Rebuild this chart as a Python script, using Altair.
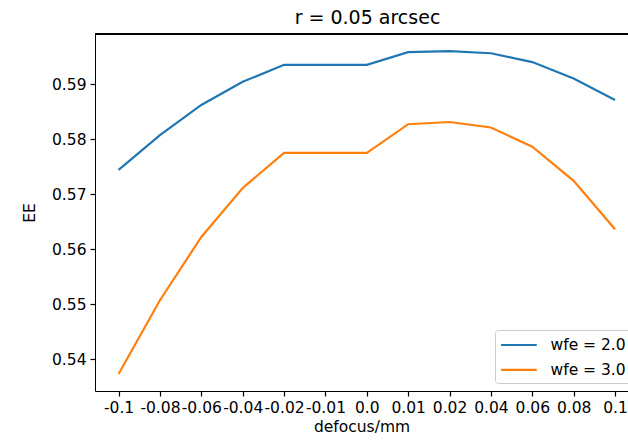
import json
import altair as alt
import pandas as pd

# ---- data ----
defocus_labels = ["-0.1", "-0.08", "-0.06", "-0.04", "-0.02", "-0.01", "0.0",
                  "0.01", "0.02", "0.04", "0.06", "0.08", "0.1"]
ee_wfe2 = [0.5744, 0.5807, 0.5862, 0.5904, 0.5935, 0.5935, 0.5935,
           0.5958, 0.5960, 0.5956, 0.5940, 0.5910, 0.5871]
ee_wfe3 = [0.5373, 0.5507, 0.5622, 0.5711, 0.5775, 0.5775, 0.5775,
           0.5827, 0.5831, 0.5821, 0.5786, 0.5724, 0.5636]
series_names = ["wfe = 2.0", "wfe = 3.0"]
series_colors = ["#1f77b4", "#ff7f0e"]
y_ticks = [0.54, 0.55, 0.56, 0.57, 0.58, 0.59]

rows = []
for name, vals in zip(series_names, [ee_wfe2, ee_wfe3]):
    for i, v in enumerate(vals):
        rows.append({"idx": i, "label": defocus_labels[i], "EE": v, "series": name})
df = pd.DataFrame(rows)

W, H = 533, 357
FONT = "DejaVu Sans"

label_expr = json.dumps(defocus_labels) + "[datum.value]"

lines = alt.Chart(df).mark_line(strokeWidth=2.2).encode(
    x=alt.X("idx:Q",
            scale=alt.Scale(domain=[-0.57, 12.3135], nice=False, zero=False),
            axis=alt.Axis(values=list(range(len(defocus_labels))), labelExpr=label_expr,
                          title="defocus/mm", grid=False)),
    y=alt.Y("EE:Q",
            scale=alt.Scale(domain=[0.5342, 0.5991], nice=False, zero=False),
            axis=alt.Axis(values=y_ticks, format=".2f", title="EE", grid=False)),
    color=alt.Color("series:N",
                    scale=alt.Scale(domain=series_names, range=series_colors),
                    legend=alt.Legend(title=None, orient="none", legendX=400, legendY=296,
                                      symbolType="M-1,0H3", symbolSize=318,
                                      symbolStrokeWidth=2.2, labelOffset=30,
                                      padding=4.5, rowPadding=5.8,
                                      strokeColor="#cccccc", fillColor="white",
                                      cornerRadius=3, labelFontSize=15.5,
                                      labelFont=FONT, labelColor="#000000")),
)

top_border = alt.Chart(df).mark_rule(color="#000000", strokeWidth=1).encode(
    x=alt.value(0), x2=alt.value(W), y=alt.value(0)
)

chart = alt.layer(lines, top_border).properties(
    width=W, height=H,
    title=alt.TitleParams("r = 0.05 arcsec", fontSize=19, font=FONT, fontWeight="normal",
                          color="#000000", anchor="middle", dx=6, offset=6),
    autosize=alt.AutoSizeParams(type="none"),
    padding={"left": 95, "top": 34, "right": 0, "bottom": 49},
).configure_view(stroke=None).configure_axis(
    labelFont=FONT, labelFontSize=15.5, labelColor="#000000",
    titleFont=FONT, titleFontSize=15.5, titleColor="#000000", titleFontWeight="normal",
    domainColor="#000000", domainWidth=1, tickColor="#000000", tickWidth=1.2,
    tickSize=5, labelPadding=4,
).configure_axisY(titlePadding=14).configure_axisX(titlePadding=4)

chart.save("out.html", embed_options={"renderer": "svg", "actions": False})
